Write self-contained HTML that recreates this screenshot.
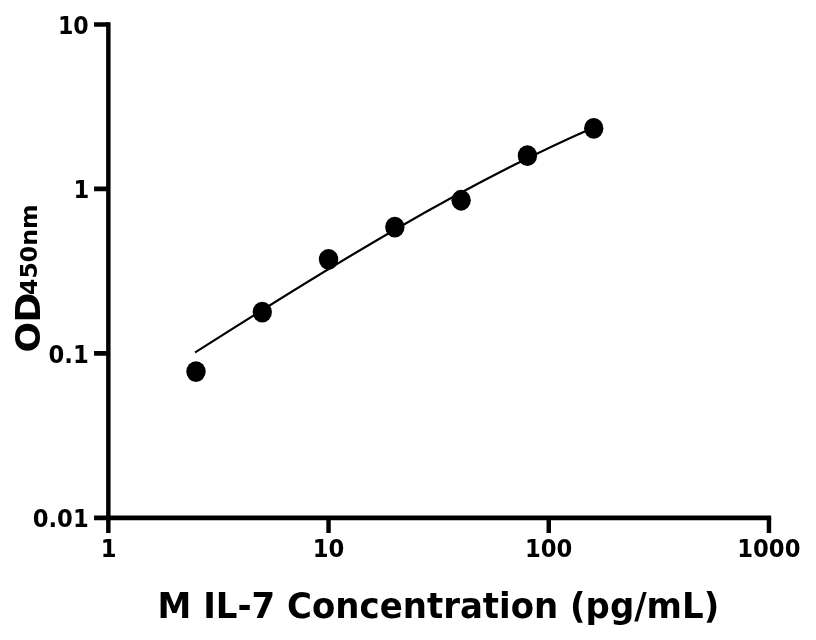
<!DOCTYPE html>
<html>
<head>
<meta charset="utf-8">
<title>M IL-7 Standard Curve</title>
<style>
html,body{margin:0;padding:0;background:#fff;}
body{width:816px;height:640px;overflow:hidden;}
svg{display:block;}
text{font-family:"DejaVu Sans","Liberation Sans",sans-serif;font-weight:bold;fill:#000;}
.tick{font-size:24.0px;}
.lab{font-size:36.1px;}
</style>
</head>
<body>
<svg width="816" height="640" viewBox="0 0 816 640">
<rect width="816" height="640" fill="#fff"/>
<g transform="scale(0.946 1)">
<g stroke="#000" stroke-width="4.7" fill="none">
<path d="M114.53 22.15 V520.15"/>
<path d="M112.18 517.8 H815.19"/>
<path d="M99.42 24.5 H114.53 M99.42 188.93 H114.53 M99.42 353.37 H114.53 M99.42 517.8 H114.53"/>
<path d="M114.53 517.8 V532.9 M347.3 517.8 V532.9 M580.07 517.8 V532.9 M812.84 517.8 V532.9"/>
</g>
<g class="tick" text-anchor="end">
<text transform="translate(93.76 33.6) scale(0.975 1.015)">10</text>
<text transform="translate(94.5 198.23) scale(1 1.015)">1</text>
<text transform="translate(93.76 362.67) scale(1 1.015)">0.1</text>
<text transform="translate(93.76 527.1) scale(1 1.015)">0.01</text>
</g>
<g class="tick" text-anchor="middle">
<text transform="translate(114.85 556.8) scale(1 1.015)">1</text>
<text transform="translate(347.2 556.8) scale(1 1.015)">10</text>
<text transform="translate(579.97 556.8) scale(1 1.015)">100</text>
<text transform="translate(812.74 556.8) scale(1 1.015)">1000</text>
</g>
<text class="lab" text-anchor="middle" transform="translate(463.42 618.1) scale(0.995 1)">M IL-7 Concentration (pg/mL)</text>
</g>
<text class="lab" transform="translate(40.3 352.6) scale(0.946 1) rotate(-90)" dx="0 -0.7">OD</text>
<text style="font-size:23.6px" transform="translate(37.4 295) scale(0.946 1) rotate(-90)">450nm</text>
<g transform="scale(0.946 1)">
<path d="M207.17 351.87 C347.33 267.45 487.48 185.21 627.64 127.53" stroke="#000" stroke-width="2.25" stroke-linecap="square" fill="none"/>
<g fill="#000">
<ellipse cx="207.17" cy="371.55" rx="10.25" ry="10.4"/>
<ellipse cx="277.23" cy="312.1" rx="10.25" ry="10.4"/>
<ellipse cx="347.3" cy="259.4" rx="10.25" ry="10.4"/>
<ellipse cx="417.38" cy="227.05" rx="10.25" ry="10.4"/>
<ellipse cx="487.44" cy="200.25" rx="10.25" ry="10.4"/>
<ellipse cx="557.52" cy="155.65" rx="10.25" ry="10.4"/>
<ellipse cx="627.64" cy="128.3" rx="10.25" ry="10.4"/>
</g>
</g>
</svg>
</body>
</html>
